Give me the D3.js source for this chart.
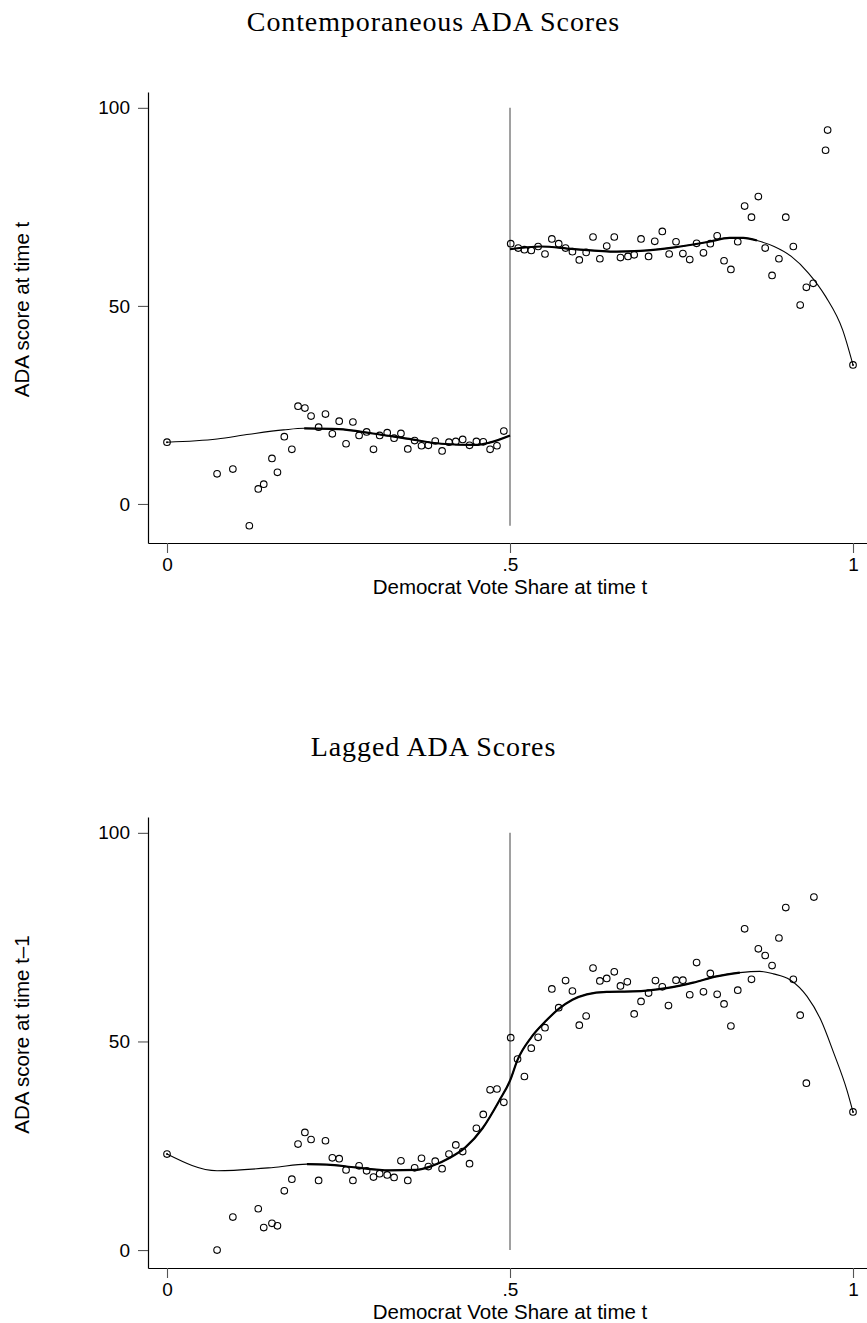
<!DOCTYPE html>
<html>
<head>
<meta charset="utf-8">
<script src="https://cdn.jsdelivr.net/npm/d3@7"></script>
<style>
  body { margin: 0; background: #fff; }
  svg { display: block; }
</style>
</head>
<body>
<script>
// valores (binned scatter + ajuste polinomial local)
var xTicks = [0, 0.5, 1];
var yTicks = [0, 50, 100];

// panel 1: ADA contemporaneo
var contempX = [0, .073, .096, .12, .133, .141, .153, .161, .171, .182, .191, .201, .21, .221, .231, .241, .251, .261, .271, .28,
  .291, .301, .31, .321, .331, .341, .351, .361, .371, .381, .391, .401, .411, .421, .431, .441, .451, .461, .471, .481, .491,
  .501, .512, .521, .531, .541, .551, .561, .571, .581, .591, .601, .611, .621, .631, .641, .652, .661, .672, .681, .691,
  .702, .711, .722, .732, .742, .752, .762, .772, .782, .792, .802, .812, .822, .832, .842, .852, .862, .872, .882, .892,
  .902, .913, .923, .932, .942, .96, .963, 1];
var contempY = [15.6, 7.6, 8.8, -5.5, 3.8, 5.0, 11.5, 8.0, 17.0, 13.8, 24.7, 24.2, 22.2, 19.4, 22.7, 17.7, 20.9, 15.2, 20.7, 17.3,
  18.2, 13.8, 17.3, 18.0, 16.6, 17.8, 13.9, 16.0, 14.7, 14.8, 15.9, 13.4, 15.6, 15.8, 16.3, 14.8, 15.8, 15.7, 13.8, 14.7, 18.4,
  65.7, 64.6, 64.2, 64.0, 65.0, 63.1, 66.9, 65.7, 64.6, 63.7, 61.6, 63.5, 67.4, 61.9, 65.1, 67.4, 62.2, 62.5, 62.9, 66.9,
  62.5, 66.3, 68.8, 63.1, 66.2, 63.2, 61.7, 65.8, 63.4, 65.7, 67.7, 61.4, 59.2, 66.2, 75.2, 72.4, 77.6, 64.6, 57.7, 61.9,
  72.4, 65.0, 50.2, 54.7, 55.7, 89.3, 94.4, 35.1];
var contempFitLeftX = [0, .073, .12, .17, .2, .25, .3, .35, .4, .45, .47, .5];
var contempFitLeftY = [15.6, 16.4, 17.6, 18.7, 19.1, 18.9, 17.8, 16.5, 15.2, 14.9, 15.5, 17.3];
var contempFitRightX = [.5, .545, .59, .655, .69, .74, .79, .82, .84, .86, .885, .91, .935, .96, .985, 1];
var contempFitRightY = [64.3, 65.0, 64.4, 63.7, 63.9, 64.8, 66.2, 67.2, 67.2, 66.5, 65.0, 62.5, 58.3, 52.4, 43.9, 35.1];

// panel 2: ADA rezagado
var laggedX = [0, .073, .096, .133, .141, .153, .161, .171, .182, .191, .201, .21, .221, .231, .241, .251, .261, .271, .28, .291,
  .301, .31, .321, .331, .341, .351, .361, .371, .381, .391, .401, .411, .421, .431, .441, .451, .461, .471, .481, .491,
  .501, .511, .521, .531, .541, .551, .561, .571, .581, .591, .601, .611, .621, .631, .641, .652, .661, .671, .681, .691,
  .702, .712, .722, .731, .742, .752, .762, .772, .782, .792, .802, .812, .822, .832, .842, .852, .862, .872, .882, .892,
  .902, .913, .923, .932, .943, 1];
var laggedY = [23.0, 0, 7.9, 9.9, 5.4, 6.4, 5.8, 14.2, 17.0, 25.4, 28.2, 26.5, 16.7, 26.2, 22.1, 21.9, 19.2, 16.7, 20.2, 19.0,
  17.5, 18.3, 18.0, 17.4, 21.4, 16.7, 19.7, 22.0, 20.0, 21.3, 19.5, 23.0, 25.2, 23.6, 20.7, 29.2, 32.5, 38.4, 38.6, 35.4,
  50.9, 45.8, 41.6, 48.4, 51.0, 53.3, 62.6, 58.1, 64.6, 62.1, 53.9, 56.1, 67.6, 64.5, 65.1, 66.7, 63.3, 64.3, 56.6, 59.6,
  61.6, 64.6, 63.1, 58.6, 64.7, 64.7, 61.2, 68.9, 61.9, 66.3, 61.3, 59.0, 53.7, 62.3, 77.0, 64.9, 72.2, 70.6, 68.2, 74.8,
  82.1, 64.9, 56.3, 40.0, 84.6, 33.1];
var laggedFitX = [0, .073, .155, .204, .233, .275, .324, .363, .387, .411, .435, .46, .485, .5, .511, .531, .551, .571, .591,
  .612, .641, .68, .728, .767, .801, .835, .864, .884, .908, .933, .953, .972, .991, 1];
var laggedFitY = [23.0, 19.0, 19.8, 20.6, 20.5, 19.8, 19.1, 19.2, 20.2, 22.0, 24.6, 29.2, 36.0, 40.6, 45.6, 51.0, 54.7, 57.8, 60.0,
  61.3, 61.9, 62.0, 62.8, 64.1, 65.6, 66.5, 66.8, 66.2, 64.8, 60.8, 55.2, 47.2, 38.4, 33.1];

var thickRange = [0.2, 0.86]; // tramo donde la linea de ajuste se ve gruesa
var cutoff = 0.5;

var W = 867, H = 1323;
var svg = d3.select("body").append("svg").attr("width", W).attr("height", H);

var sans = "'Liberation Sans', Arial, sans-serif";
var serif = "'Liberation Serif', 'Times New Roman', serif";

function panel(p) {
  var x = d3.scaleLinear().domain([-0.0277, 1.0204]).range([148, 867]);
  var y = d3.scaleLinear().domain(p.yDomain).range([p.bottom, p.top]);
  var g = svg.append("g");

  g.append("text")
    .attr("x", W / 2).attr("y", p.top - 61)
    .attr("text-anchor", "middle")
    .style("font-family", serif).style("font-size", "28px").style("letter-spacing", "0.9px")
    .text(p.title);

  var yAxis = g.append("g").attr("transform", "translate(148,0)")
    .call(d3.axisLeft(y).tickValues(yTicks).tickSize(10).tickSizeOuter(0).tickPadding(8));
  var xAxis = g.append("g").attr("transform", "translate(0," + p.bottom + ")")
    .call(d3.axisBottom(x).tickValues(xTicks).tickSize(10).tickSizeOuter(0).tickPadding(5)
      .tickFormat(d => d === 0.5 ? ".5" : d3.format("d")(d)));
  [yAxis, xAxis].forEach(a => {
    a.select(".domain").attr("stroke", "#000").attr("stroke-width", 1.2);
    a.selectAll(".tick line").attr("stroke", "#555").attr("stroke-width", 1.1);
    a.selectAll("text").style("font-family", sans).style("font-size", "19px").attr("fill", "#000");
  });

  g.append("text")
    .attr("transform", "translate(29," + ((p.top + p.bottom) / 2 - 8) + ") rotate(-90)")
    .attr("text-anchor", "middle")
    .style("font-family", sans).style("font-size", "20.5px")
    .text(p.yLabel);
  g.append("text")
    .attr("x", 510).attr("y", p.bottom + 51)
    .attr("text-anchor", "middle")
    .style("font-family", sans).style("font-size", "20.5px")
    .text("Democrat Vote Share at time t");

  // linea vertical en el umbral
  g.append("line")
    .attr("x1", x(cutoff)).attr("x2", x(cutoff))
    .attr("y1", y(d3.min(p.ys))).attr("y2", y(100))
    .attr("stroke", "#6e6e6e").attr("stroke-width", 1.3);

  var line = d3.line().x(d => x(d[0])).y(d => y(d[1])).curve(d3.curveMonotoneX);
  p.fits.forEach(f => {
    var pts = d3.zip(f[0], f[1]);
    g.append("path").attr("d", line(pts))
      .attr("fill", "none").attr("stroke", "#000").attr("stroke-width", 1.1);
    var mid = pts.filter(d => d[0] >= thickRange[0] && d[0] <= thickRange[1]);
    g.append("path").attr("d", line(mid))
      .attr("fill", "none").attr("stroke", "#000").attr("stroke-width", 2.2);
  });

  var pts = d3.zip(p.xs, p.ys);
  g.selectAll("circle.pt").data(pts).enter().append("circle")
    .attr("class", "pt")
    .attr("cx", d => x(d[0])).attr("cy", d => y(d[1]))
    .attr("r", 3.3)
    .attr("fill", "none").attr("stroke", "#000").attr("stroke-width", 1.1);
  // puntos extremos con marca central
  g.selectAll("circle.end").data(pts.filter(d => d[0] === 0 || d[0] === 1)).enter().append("circle")
    .attr("class", "end")
    .attr("cx", d => x(d[0])).attr("cy", d => y(d[1]))
    .attr("r", 1).attr("fill", "#000");
}

panel({
  title: "Contemporaneous ADA Scores", yLabel: "ADA score at time t",
  yDomain: [-9.85, 104], top: 92, bottom: 543,
  xs: contempX, ys: contempY,
  fits: [[contempFitLeftX, contempFitLeftY], [contempFitRightX, contempFitRightY]]
});
panel({
  title: "Lagged ADA Scores", yLabel: "ADA score at time t\u20131",
  yDomain: [-4.3, 103.8], top: 817, bottom: 1268,
  xs: laggedX, ys: laggedY,
  fits: [[laggedFitX, laggedFitY]]
});
</script>
</body>
</html>
